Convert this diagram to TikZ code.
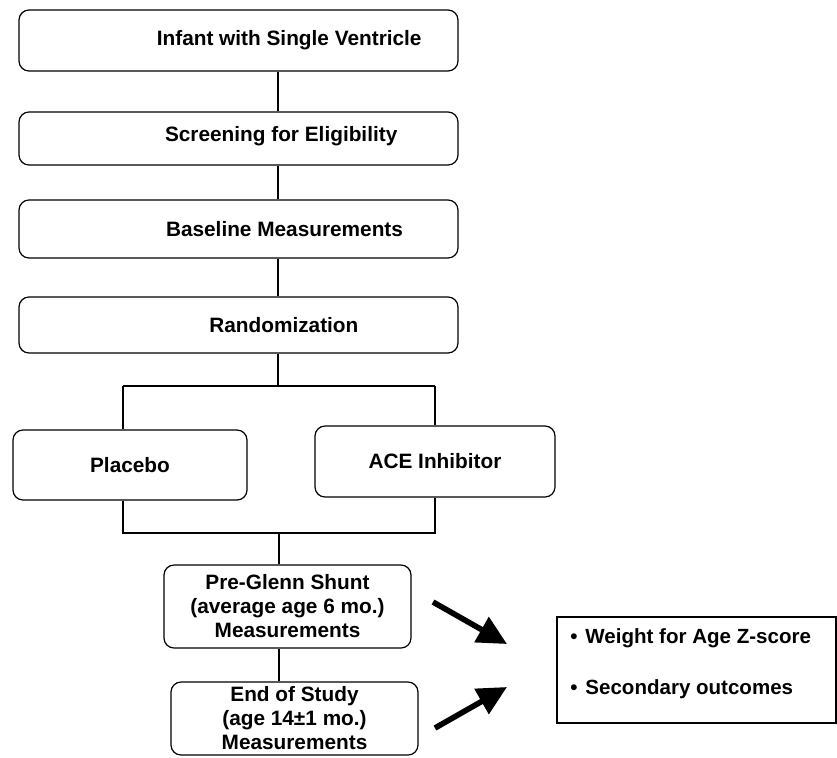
\documentclass[tikz,border=0pt]{standalone}
\usepackage{fontspec}
\setmainfont{Liberation Sans}
\usetikzlibrary{arrows.meta}
\begin{document}
\begin{tikzpicture}[x=0.75pt,y=-0.75pt,
  box/.style={draw=black,line width=0.9pt,rounded corners=7.5pt,inner sep=0pt,font=\fontsize{15.6}{18}\bfseries\selectfont,align=center},
  lbl/.style={inner sep=0pt,font=\fontsize{15.6}{18}\bfseries\selectfont},
  conn/.style={draw=black,line width=0.8pt},
  bigarrow/.style={draw=black,line width=4.2pt,-{Triangle[length=22pt,width=21pt]}}]
\useasboundingbox (0,0) rectangle (837,757);
\node[box,minimum width=439*0.75pt,minimum height=61*0.75pt,label={[lbl,xshift=38pt]center:Infant with Single Ventricle}] (b1) at (238.5,40.5) {};
\node[box,minimum width=439*0.75pt,minimum height=53*0.75pt,label={[lbl,xshift=32pt,yshift=2pt]center:Screening for Eligibility}] (b2) at (238.5,138.5) {};
\node[box,minimum width=439*0.75pt,minimum height=58*0.75pt,label={[lbl,xshift=34.5pt]center:Baseline Measurements}] (b3) at (238.5,229) {};
\node[box,minimum width=439*0.75pt,minimum height=56*0.75pt,label={[lbl,xshift=34pt]center:Randomization}] (b4) at (238.5,325) {};
\node[box,minimum width=234*0.75pt,minimum height=70*0.75pt] (pl) at (130,465) {Placebo};
\node[box,minimum width=240*0.75pt,minimum height=71*0.75pt] (ace) at (435,461.5) {ACE Inhibitor};
\node[box,minimum width=247*0.75pt,minimum height=83*0.75pt] (pg) at (287.5,606.5) {Pre-Glenn Shunt\\(average age 6 mo.)\\Measurements};
\node[box,minimum width=247*0.75pt,minimum height=73*0.75pt] (es) at (294.5,718.5) {End of Study\\(age 14\textpm1 mo.)\\Measurements};
\node[draw=black,line width=0.9pt,rectangle,inner sep=0pt,minimum width=279*0.75pt,minimum height=106*0.75pt] (out) at (696.5,670) {};
\node[anchor=west,align=left,inner sep=0pt,font=\fontsize{15.4}{38}\bfseries\selectfont] (outtxt) at (570,664)
  {\textbullet\hspace{6pt}Weight for Age Z-score\\\textbullet\hspace{6pt}Secondary outcomes};
\coordinate (s1) at (278,386);
\coordinate (sl) at (123,386);
\coordinate (sr) at (435,386);
\coordinate (jl) at (123,533);
\coordinate (jr) at (435,533);
\coordinate (jm) at (279,533);
\draw[conn] (b1.south -| s1) -- (b2.north -| s1);
\draw[conn] (b2.south -| s1) -- (b3.north -| s1);
\draw[conn] (b3.south -| s1) -- (b4.north -| s1);
\draw[conn] (b4.south -| s1) -- (s1);
\draw[conn] (sl) -- (sr);
\draw[conn] (sl) -- (pl.north -| sl);
\draw[conn] (sr) -- (ace.north -| sr);
\draw[conn] (pl.south -| jl) -- (jl) -- (jr) -- (ace.south -| jr);
\draw[conn] (jm) -- (pg.north -| jm);
\draw[conn] (pg.south -| jm) -- (es.north -| jm);
\coordinate (a1s) at (433,602);
\coordinate (a1e) at (507,644);
\coordinate (a2s) at (435,728);
\coordinate (a2e) at (507,687);
\draw[bigarrow] (a1s) -- (a1e);
\draw[bigarrow] (a2s) -- (a2e);
\end{tikzpicture}
\end{document}
